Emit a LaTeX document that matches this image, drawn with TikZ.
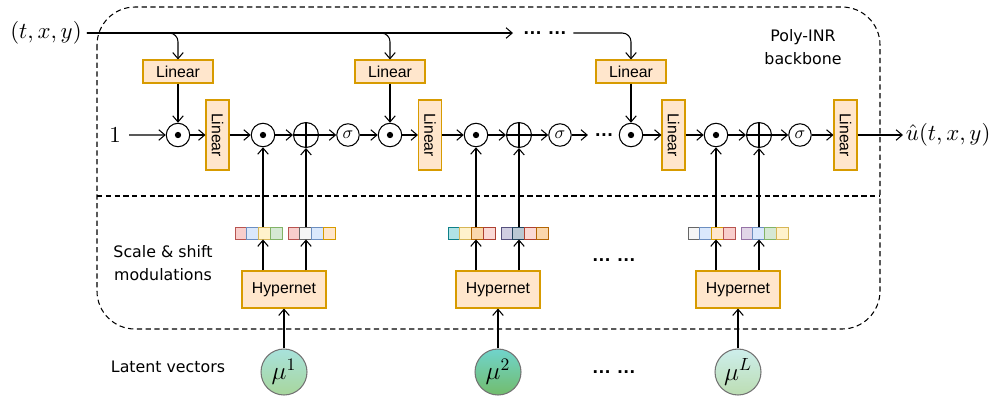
\documentclass[tikz,border=0pt]{standalone}
\usepackage{amsmath}
\usepackage{fontspec}
\usepackage{tikz}
\usetikzlibrary{arrows.meta}
\newfontfamily\boxfont{Liberation Sans}
\newfontfamily\labfont{DejaVu Sans}
\definecolor{boxfill}{HTML}{FFE6CC}
\definecolor{boxline}{HTML}{D79B00}
\definecolor{redfill}{HTML}{F8CECC}\definecolor{redline}{HTML}{B85450}
\definecolor{bluefill}{HTML}{DAE8FC}\definecolor{blueline}{HTML}{6C8EBF}
\definecolor{yelfill}{HTML}{FFF2CC}\definecolor{yelline}{HTML}{D6B656}
\definecolor{grnfill}{HTML}{D5E8D4}\definecolor{grnline}{HTML}{82B366}
\definecolor{gryfill}{HTML}{F5F5F5}\definecolor{gryline}{HTML}{666666}
\definecolor{orafill}{HTML}{FFE6CC}\definecolor{oraline}{HTML}{D79B00}
\definecolor{tealfill}{HTML}{B0E3E6}\definecolor{tealline}{HTML}{0E8088}
\definecolor{ambfill}{HTML}{FAD7AC}\definecolor{ambline}{HTML}{B46504}
\definecolor{rosefill}{HTML}{FAD9D5}\definecolor{roseline}{HTML}{AE4132}
\definecolor{lilfill}{HTML}{D0CEE2}\definecolor{lilline}{HTML}{56517E}
\definecolor{slatefill}{HTML}{BAC8D3}\definecolor{slateline}{HTML}{23445D}
\definecolor{purfill}{HTML}{E1D5E7}\definecolor{purline}{HTML}{9673A6}
\definecolor{muatop}{HTML}{A8E2DC}\definecolor{muabot}{HTML}{A8D69C}
\definecolor{mubtop}{HTML}{70D4CC}\definecolor{mubbot}{HTML}{72BC6C}
\definecolor{muctop}{HTML}{CDEEEC}\definecolor{mucbot}{HTML}{BCDDB2}

% one modulation vector: name, left x, four cell colours
\newcommand{\modvec}[6]{%
  \foreach \c [count=\i] in {#3,#4,#5,#6}
    \node[cell=\c] (#1\i) at ({#2+(\i-0.5)*11.75},233) {};
}

\begin{document}
\begin{tikzpicture}[x=0.02cm,y=-0.02cm,line width=0.6pt,
    >={Straight Barb[length=3.5pt,width=6pt]}]
  \tikzset{
    lin/.style={draw=boxline,fill=boxfill,font=\boxfont\fontsize{9}{10}\selectfont,
      minimum width=1.4cm,minimum height=0.46cm,inner sep=0pt},
    linv/.style={lin,rotate=-90},
    hyper/.style={lin,minimum width=1.68cm,minimum height=0.74cm},
    prod/.style={circle,draw,minimum size=0.47cm,inner sep=0pt,
      path picture={\fill (path picture bounding box.center) circle (1.8pt);}},
    plus/.style={circle,draw,minimum size=0.5cm,inner sep=0pt,
      path picture={\draw (path picture bounding box.north)--(path picture bounding box.south)
        (path picture bounding box.west)--(path picture bounding box.east);}},
    act/.style={circle,draw,minimum size=0.45cm,inner sep=0pt},
    cell/.style={draw=#1line,fill=#1fill,minimum width=0.235cm,minimum height=0.24cm,
      inner sep=0pt,line width=0.5pt},
    latent/.style 2 args={circle,draw=black!55,minimum size=0.92cm,inner sep=0pt,
      top color=#1,bottom color=#2,font=\Large},
    lab/.style={font=\labfont\fontsize{9}{13}\selectfont,align=center},
    big/.style={scale=1.3},
    gap/.style={font=\boxfont\bfseries\fontsize{11}{12}\selectfont},
    frame/.style={dash pattern=on 3pt off 2pt}
  }
  \useasboundingbox (0,0) rectangle (994,397);
  % backbone frame
  \draw[frame,rounded corners=0.76cm] (97,7) rectangle (880,329);
  \draw[frame] (97,196) -- (880,196);
  \node[lab] (bblab) at (803,47) {Poly-INR\\backbone};
  % input line
  \node[big,inner sep=2pt] (inp) at (46,33) {$(t,x,y)$};
  \node[lin] (lin1) at (178,71.5) {Linear};
  \node[lin] (lin2) at (390,71.5) {Linear};
  \node[lin] (lin3) at (631,71.5) {Linear};
  \coordinate (tend) at (513,33);
  \node[gap] (tdots) at (545,33) {… …};
  \draw[->] (inp) -- (tend);
  \draw[->,rounded corners=5pt] (inp.east) -| (lin1.north);
  \draw[->,rounded corners=5pt] (inp.east) -| (lin2.north);
  \draw[->,rounded corners=5pt] (tdots.east) -| (lin3.north);
  % main row
  \node[big] (one) at (115,135) {$1$};
  \node[prod] (m1) at (178,135) {};
  \node[linv] (la) at (217.5,135) {Linear};
  \node[prod] (m2) at (263,135) {};
  \node[plus] (a1) at (306,135) {};
  \node[act] (s1) at (348,135) {$\sigma$};
  \node[prod] (m3) at (390,135) {};
  \node[linv] (lb) at (430,135) {Linear};
  \node[prod] (m4) at (476,135) {};
  \node[plus] (a2) at (519,135) {};
  \node[act] (s2) at (560,135) {$\sigma$};
  \node[gap] (mdots) at (604,135) {…};
  \node[prod] (m5) at (631,135) {};
  \node[linv] (lc) at (673.5,135) {Linear};
  \node[prod] (m6) at (716,135) {};
  \node[plus] (a3) at (759,135) {};
  \node[act] (s3) at (800,135) {$\sigma$};
  \node[linv] (ld) at (845.5,135) {Linear};
  \node[big,anchor=west,inner sep=1pt] (out) at (903,135) {$\hat{u}(t,x,y)$};
  \foreach \a/\b in {one/m1,m1/la,la/m2,m2/a1,a1/s1,s1/m3,m3/lb,lb/m4,m4/a2,a2/s2,
      s2/mdots,m5/lc,lc/m6,m6/a3,a3/s3,s3/ld,ld/out,lin1/m1,lin2/m3,lin3/m5}
    \draw[->] (\a) -- (\b);
  % modulations
  \node[lab] (modlab) at (163,263) {Scale \& shift\\modulations};
  \modvec{va}{235}{red}{blue}{yel}{grn}
  \modvec{vb}{288}{red}{gry}{blue}{ora}
  \modvec{vc}{448}{teal}{yel}{amb}{rose}
  \modvec{vd}{501}{lil}{slate}{rose}{amb}
  \modvec{ve}{688}{gry}{blue}{ora}{red}
  \modvec{vf}{741}{pur}{blue}{grn}{yel}
  \node[hyper] (h1) at (284,289.5) {Hypernet};
  \node[hyper] (h2) at (498,289.5) {Hypernet};
  \node[hyper] (h3) at (738,289.5) {Hypernet};
  \node[gap] (vdots) at (614,260) {… …};
  \foreach \h/\v/\m in {h1/va3/m2,h1/vb2/a1,h2/vc3/m4,h2/vd2/a2,h3/ve3/m6,h3/vf2/a3} {
    \draw[->] (\h.north -| \m) -- (\v.south -| \m);
    \draw[->] (\v.north -| \m) -- (\m);
  }
  % latent vectors
  \node[lab] (latlab) at (168,367) {Latent vectors};
  \node[latent={muatop}{muabot}] (mu1) at (284,372) {$\mu^1$};
  \node[latent={mubtop}{mubbot}] (mu2) at (498,372) {$\mu^2$};
  \node[latent={muctop}{mucbot}] (mu3) at (738,372) {$\mu^L$};
  \node[gap] (ldots) at (614,372) {… …};
  \foreach \i in {1,2,3}
    \draw[->] (mu\i) -- (h\i);
\end{tikzpicture}
\end{document}
